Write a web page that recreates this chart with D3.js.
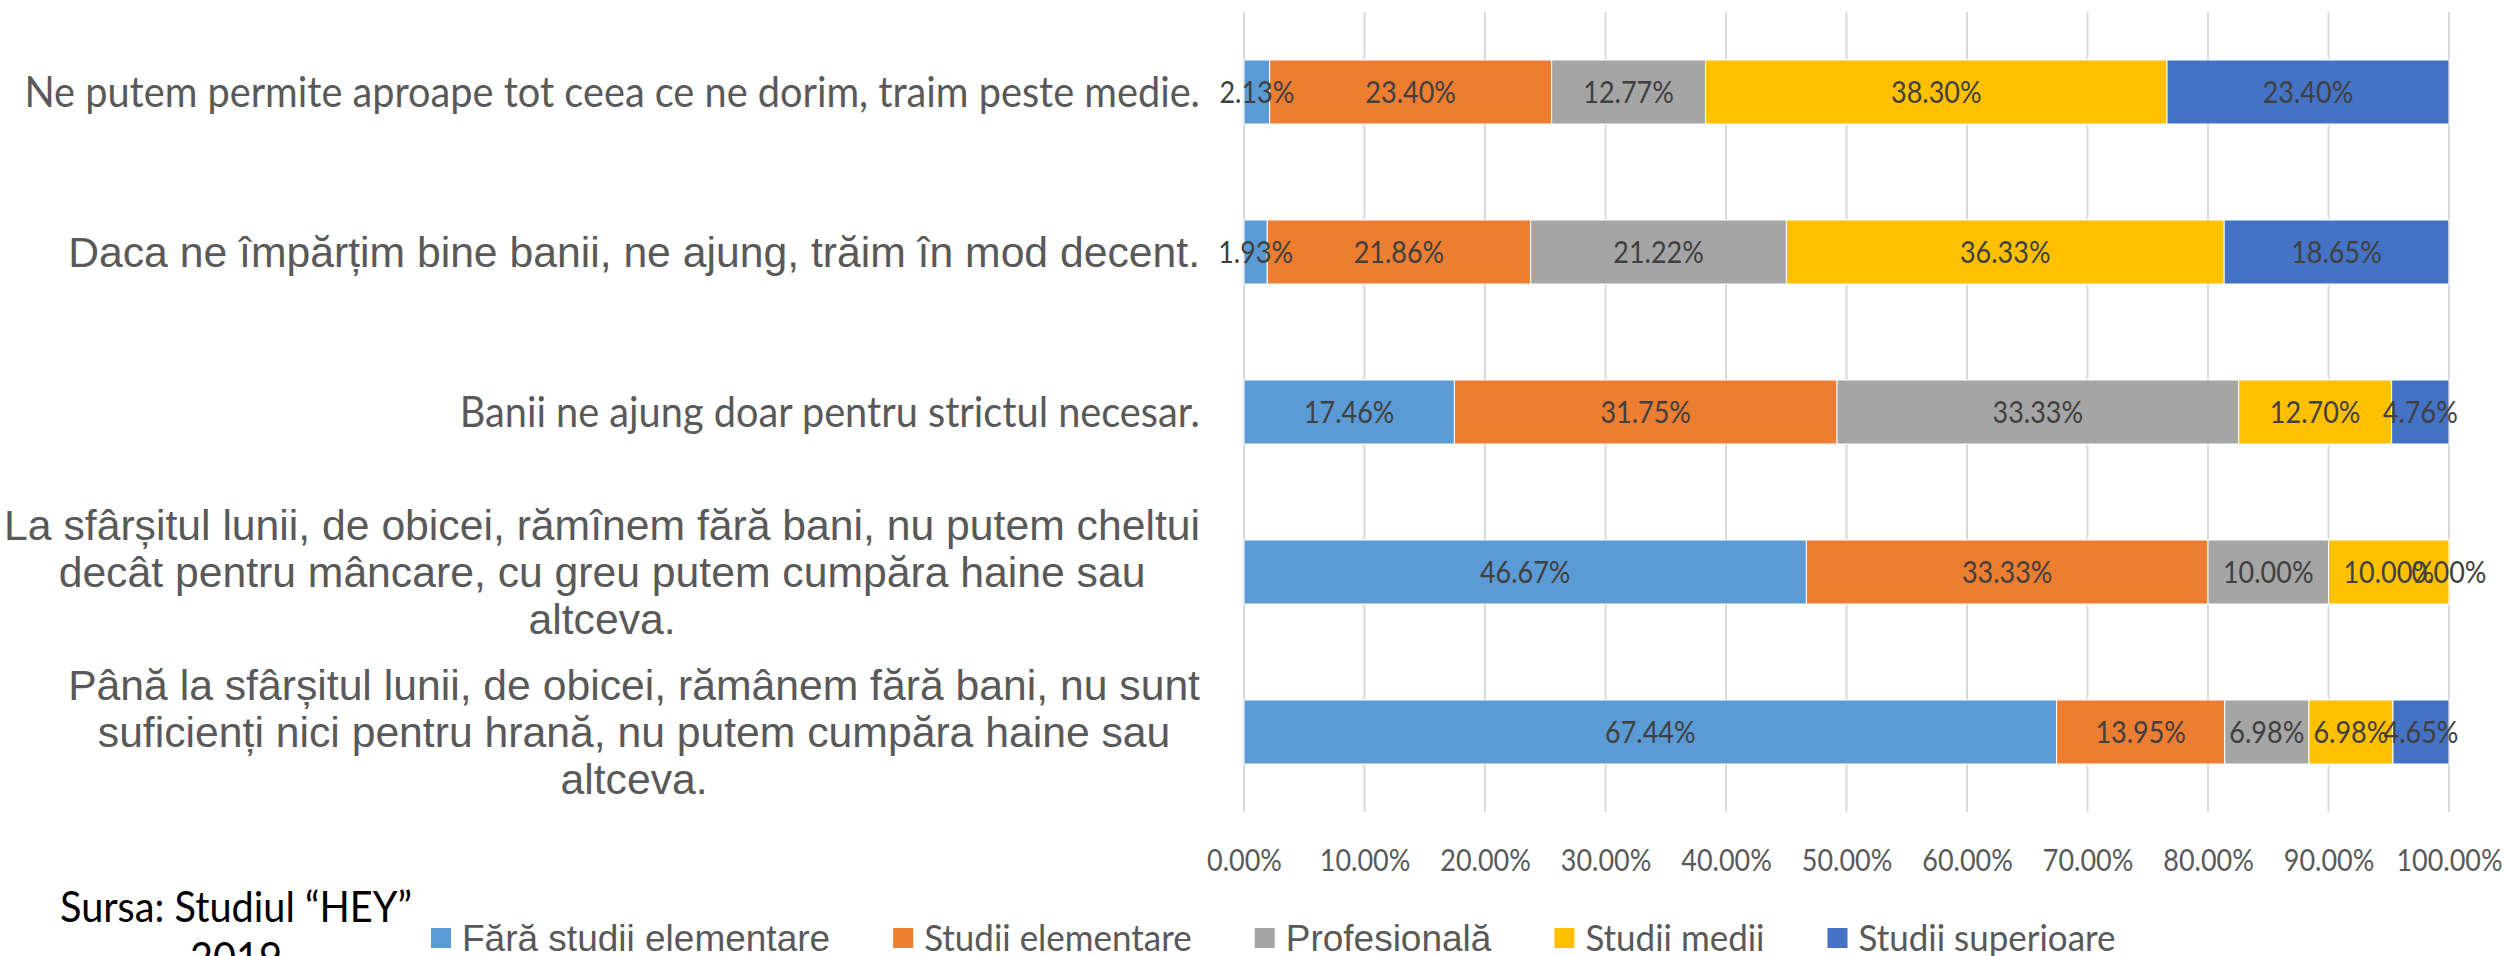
<!DOCTYPE html>
<html>
<head>
<meta charset="utf-8">
<script src="https://cdn.jsdelivr.net/npm/d3@7"></script>
<style>
  body { margin: 0; background: #fff; }
  svg { display: block; }
</style>
</head>
<body>
<script>
// categories, top to bottom (each entry = the lines of the label)
var categories = [
  ["Ne putem permite aproape tot ceea ce ne dorim, traim peste medie."],
  ["Daca ne împărțim bine banii, ne ajung, trăim în mod decent."],
  ["Banii ne ajung doar pentru strictul necesar."],
  ["La sfârșitul lunii, de obicei, rămînem fără bani, nu putem cheltui",
   "decât pentru mâncare, cu greu putem cumpăra haine sau",
   "altceva."],
  ["Până la sfârșitul lunii, de obicei, rămânem fără bani, nu sunt",
   "suficienți nici pentru hrană, nu putem cumpăra haine sau",
   "altceva."]
];

var seriesNames = ["Fără studii elementare", "Studii elementare", "Profesională", "Studii medii", "Studii superioare"];

var faraStudii       = [2.13, 1.93, 17.46, 46.67, 67.44];
var studiiElementare = [23.40, 21.86, 31.75, 33.33, 13.95];
var profesionala     = [12.77, 21.22, 33.33, 10.00, 6.98];
var studiiMedii      = [38.30, 36.33, 12.70, 10.00, 6.98];
var studiiSuperioare = [23.40, 18.65, 4.76, 0.00, 4.65];

var tickValues = [0, 10, 20, 30, 40, 50, 60, 70, 80, 90, 100];

var sourceLines = ["Sursa: Studiul \u201cHEY\u201d", "2019"];

// ---- styling ----
var colors = ["#5b9bd5", "#ed7d31", "#a5a5a5", "#ffc000", "#4472c4"];
var ARIAL = "'Liberation Sans', Arial, sans-serif";
var CALIBRI = "Lato, 'Open Sans', sans-serif";
var catFonts = [CALIBRI, ARIAL, CALIBRI, ARIAL, ARIAL];
var legendFonts = [ARIAL, CALIBRI, ARIAL, CALIBRI, CALIBRI];
var NARROW = 0.945; // Lato is a bit wider than Calibri, squeeze it
var NARROW_NUM = 0.87;

var width = 2506, height = 956;

var svg = d3.select("body").append("svg")
    .attr("width", width)
    .attr("height", height)
    .style("font-family", ARIAL);

var x = d3.scaleLinear().domain([0, 100]).range([1244, 2449]);
var y = d3.scaleBand()
    .domain(d3.range(categories.length))
    .range([12, 812])
    .paddingInner(0.6)
    .paddingOuter(0.3);

function squeeze(sel, k) {
  sel.each(function() {
    var w = this.getComputedTextLength();
    if (w > 0) d3.select(this).attr("textLength", w * k).attr("lengthAdjust", "spacingAndGlyphs");
  });
}

// gridlines
svg.append("g").selectAll("line")
  .data(tickValues)
  .enter().append("line")
    .attr("x1", function(d) { return x(d); })
    .attr("x2", function(d) { return x(d); })
    .attr("y1", 12)
    .attr("y2", 812)
    .attr("stroke", "#d9d9d9")
    .attr("stroke-width", 2);

// axis labels
var axis = svg.append("g")
    .attr("transform", "translate(0,812)")
    .call(d3.axisBottom(x)
      .tickValues(tickValues)
      .tickSize(0)
      .tickPadding(37)
      .tickFormat(function(d) { return d.toFixed(2) + "%"; }));
axis.select(".domain").remove();
axis.selectAll("text")
    .attr("fill", "#595959")
    .style("font-family", CALIBRI)
    .style("font-size", "31px")
    .call(squeeze, NARROW_NUM);

// stacked bars
var rows = categories.map(function(c, i) {
  return {
    "Fără studii elementare": faraStudii[i],
    "Studii elementare": studiiElementare[i],
    "Profesională": profesionala[i],
    "Studii medii": studiiMedii[i],
    "Studii superioare": studiiSuperioare[i]
  };
});
var stacked = d3.stack().keys(seriesNames)(rows);

var layers = svg.append("g").selectAll("g")
  .data(stacked)
  .enter().append("g")
    .attr("fill", function(d, i) { return colors[i]; });

layers.selectAll("rect")
  .data(function(d) { return d; })
  .enter().append("rect")
    .attr("x", function(d) { return x(d[0]); })
    .attr("width", function(d) { return x(d[1]) - x(d[0]); })
    .attr("y", function(d, i) { return y(i); })
    .attr("height", y.bandwidth())
    .attr("stroke", "#fff")
    .attr("stroke-width", 1);

// data labels
var labelG = svg.append("g");
stacked.forEach(function(layer) {
  layer.forEach(function(d, i) {
    labelG.append("text")
      .attr("x", (x(d[0]) + x(d[1])) / 2)
      .attr("y", y(i) + y.bandwidth() / 2)
      .attr("dy", "0.36em")
      .attr("text-anchor", "middle")
      .attr("fill", "#404040")
      .style("font-family", CALIBRI)
      .style("font-size", "31px")
      .text((d[1] - d[0]).toFixed(2) + "%")
      .call(squeeze, NARROW_NUM);
  });
});

// category labels
var catG = svg.append("g");
categories.forEach(function(lines, i) {
  var cy = y(i) + y.bandwidth() / 2;
  var lh = 47;
  var t = catG.append("text")
      .attr("fill", "#595959")
      .style("font-family", catFonts[i])
      .style("font-size", catFonts[i] === ARIAL ? "42.7px" : "42px");
  if (lines.length === 1) {
    t.attr("x", 1200).attr("y", cy).attr("dy", "0.35em")
      .attr("text-anchor", "end").text(lines[0]);
    if (catFonts[i] === CALIBRI) t.call(squeeze, NARROW);
  } else {
    var spans = t.selectAll("tspan").data(lines).enter().append("tspan").text(function(d) { return d; });
    var maxW = 0;
    spans.each(function() { maxW = Math.max(maxW, this.getComputedTextLength()); });
    var cx = 1200 - maxW / 2;
    spans.attr("x", cx)
      .attr("y", function(d, j) { return cy + (j - (lines.length - 1) / 2) * lh; })
      .attr("dy", "0.35em")
      .attr("text-anchor", "middle");
  }
});

// legend
var legend = svg.append("g").attr("transform", "translate(0,938)");
var lx = 431;
seriesNames.forEach(function(name, i) {
  legend.append("rect")
    .attr("x", lx).attr("y", -10)
    .attr("width", 20).attr("height", 20)
    .attr("fill", colors[i]);
  var t = legend.append("text")
    .attr("x", lx + 31)
    .attr("dy", "0.35em")
    .attr("fill", "#595959")
    .style("font-family", legendFonts[i])
    .style("font-size", "37px")
    .text(name);
  if (legendFonts[i] === CALIBRI) t.call(squeeze, NARROW);
  var w = +t.attr("textLength") || t.node().getComputedTextLength();
  lx += 31 + w + 63;
});

// source note
svg.append("g").selectAll("text")
  .data(sourceLines)
  .enter().append("text")
    .attr("x", 236)
    .attr("y", function(d, i) { return 907 + i * 51; })
    .attr("dy", "0.35em")
    .attr("text-anchor", "middle")
    .attr("fill", "#000")
    .style("font-family", CALIBRI)
    .style("font-size", "42px")
    .text(function(d) { return d; })
    .call(squeeze, NARROW);
</script>
</body>
</html>
